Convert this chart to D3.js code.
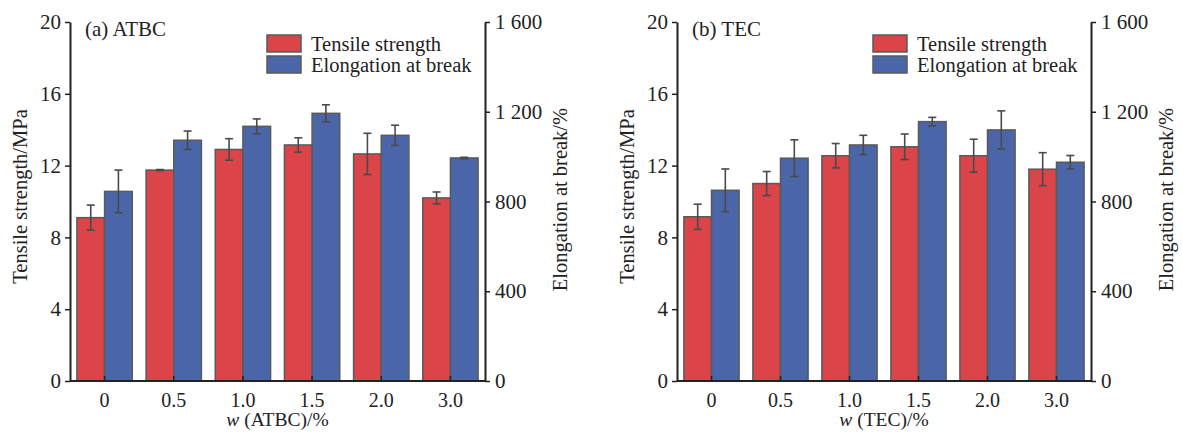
<!DOCTYPE html>
<html>
<head>
<meta charset="utf-8">
<script src="https://cdn.jsdelivr.net/npm/d3@7"></script>
<style>
  body { margin: 0; background: #fff; }
  text { font-family: "Liberation Serif", "Times New Roman", serif; fill: #222; }
</style>
</head>
<body>
<div id="vis"></div>
<script>
// data
const categories = ["0", "0.5", "1.0", "1.5", "2.0", "3.0"];

const atbcTensile = [9.1, 11.75, 12.9, 13.15, 12.65, 10.2];
const atbcTensileErr = [0.7, 0.03, 0.6, 0.4, 1.15, 0.33];
const atbcElong = [845, 1073, 1135, 1193, 1095, 994];
const atbcElongErr = [95, 41, 33, 38, 45, 3];

const tecTensile = [9.15, 11.0, 12.55, 13.05, 12.55, 11.8];
const tecTensileErr = [0.7, 0.67, 0.68, 0.71, 0.92, 0.92];
const tecElong = [850, 993, 1052, 1156, 1119, 975];
const tecElongErr = [95, 82, 43, 19, 85, 30];

const leftTicks = [0, 4, 8, 12, 16, 20];
const rightTicks = [0, 400, 800, 1200, 1600];
const seriesNames = ["Tensile strength", "Elongation at break"];

const WIDTH = 1182;
const HEIGHT = 440;
const RED = "#db4449";
const BLUE = "#4a66a8";
const EDGE = "#5a5a5a";
const FS = 21;

const fmt = d3.formatLocale({decimal: ".", thousands: " ", grouping: [3], currency: ["", ""]}).format(",");

const svg = d3.select("#vis")
    .append("svg")
    .attr("width", WIDTH)
    .attr("height", HEIGHT);

function drawPanel(left, right, title, xTitle, tensile, tensileErr, elong, elongErr) {
  const top = 22, bottom = 381;
  const g = svg.append("g");

  const x = d3.scaleBand().domain(categories).range([left, right])
      .paddingInner(0.2).paddingOuter(0.1);
  const sub = d3.scaleBand().domain([0, 1]).range([0, x.bandwidth()]);
  const yL = d3.scaleLinear().domain([0, 20]).range([bottom, top]);
  const yR = d3.scaleLinear().domain([0, 1600]).range([bottom, top]);

  const rows = categories.map((c, i) => ({c: c, t: tensile[i], te: tensileErr[i], e: elong[i], ee: elongErr[i]}));

  // bars
  g.selectAll(".red").data(rows).enter().append("rect")
      .attr("x", d => x(d.c) + sub(0))
      .attr("y", d => yL(d.t))
      .attr("width", sub.bandwidth())
      .attr("height", d => bottom - yL(d.t))
      .attr("fill", RED).attr("stroke", EDGE).attr("stroke-width", 1.5);
  g.selectAll(".blue").data(rows).enter().append("rect")
      .attr("x", d => x(d.c) + sub(1))
      .attr("y", d => yR(d.e))
      .attr("width", sub.bandwidth())
      .attr("height", d => bottom - yR(d.e))
      .attr("fill", BLUE).attr("stroke", EDGE).attr("stroke-width", 1.5);

  // error bars
  const errs = [];
  rows.forEach(d => {
    errs.push({cx: x(d.c) + sub(0) + sub.bandwidth() / 2, y1: yL(d.t + d.te), y2: yL(d.t - d.te)});
    errs.push({cx: x(d.c) + sub(1) + sub.bandwidth() / 2, y1: yR(d.e + d.ee), y2: yR(d.e - d.ee)});
  });
  const eg = g.selectAll(".err").data(errs).enter().append("g")
      .attr("stroke", "#4a4a4a").attr("stroke-width", 1.6);
  eg.append("line").attr("x1", d => d.cx).attr("x2", d => d.cx).attr("y1", d => d.y1).attr("y2", d => d.y2);
  eg.append("line").attr("x1", d => d.cx - 4).attr("x2", d => d.cx + 4).attr("y1", d => d.y1).attr("y2", d => d.y1);
  eg.append("line").attr("x1", d => d.cx - 4).attr("x2", d => d.cx + 4).attr("y1", d => d.y2).attr("y2", d => d.y2);

  // axes
  const axL = g.append("g").attr("transform", "translate(" + left + ",0)")
      .call(d3.axisLeft(yL).tickValues(leftTicks).tickSize(5).tickPadding(4).tickSizeOuter(0));
  const axR = g.append("g").attr("transform", "translate(" + right + ",0)")
      .call(d3.axisRight(yR).tickValues(rightTicks).tickFormat(fmt).tickSize(5).tickPadding(5).tickSizeOuter(0));
  const axB = g.append("g").attr("transform", "translate(0," + bottom + ")")
      .call(d3.axisBottom(x).tickSize(-5).tickPadding(12).tickSizeOuter(0));
  [axL, axR, axB].forEach(a => {
    a.selectAll("text").attr("font-size", FS).attr("font-family", "Liberation Serif").attr("fill", "#222");
    a.selectAll("line").attr("stroke", "#222").attr("stroke-width", 1.5);
    a.select(".domain").attr("stroke", "#222").attr("stroke-width", 2);
  });
  axB.selectAll("text").attr("font-size", 20);
  axB.select(".domain").attr("d", "M" + left + ",0H" + right);

  // panel title
  g.append("text").attr("x", left + 15).attr("y", 36).attr("font-size", FS).text(title);

  // axis titles
  g.append("text")
      .attr("transform", "translate(" + (left - 43) + "," + ((top + bottom) / 2 - 5) + ") rotate(-90)")
      .attr("text-anchor", "middle").attr("font-size", 20.5).text("Tensile strength/MPa");
  g.append("text")
      .attr("transform", "translate(" + (right + 82) + "," + ((top + bottom) / 2 - 2) + ") rotate(-90)")
      .attr("text-anchor", "middle").attr("font-size", 20.5).text("Elongation at break/%");
  const xt = g.append("text").attr("x", (left + right) / 2).attr("y", 426)
      .attr("text-anchor", "middle").attr("font-size", 19.5);
  xt.append("tspan").attr("font-style", "italic").text("w");
  xt.append("tspan").text(" (" + xTitle + ")/%");

  // legend
  const lx = right - 218;
  const lg = g.selectAll(".leg").data(seriesNames).enter().append("g")
      .attr("transform", (d, i) => "translate(" + lx + "," + (35 + i * 21) + ")");
  lg.append("rect").attr("width", 34).attr("height", 17)
      .attr("fill", (d, i) => i === 0 ? RED : BLUE).attr("stroke", EDGE).attr("stroke-width", 1.5);
  lg.append("text").attr("x", 44).attr("y", 16).attr("font-size", 20.5).text(d => d);
}

drawPanel(70, 485, "(a) ATBC", "ATBC", atbcTensile, atbcTensileErr, atbcElong, atbcElongErr);
drawPanel(677, 1091, "(b) TEC", "TEC", tecTensile, tecTensileErr, tecElong, tecElongErr);
</script>
</body>
</html>
